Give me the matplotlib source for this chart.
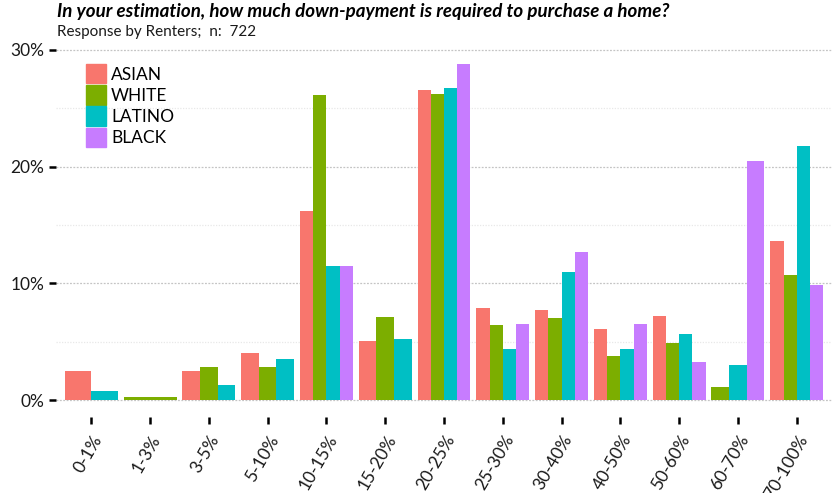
import matplotlib.pyplot as plt
import matplotlib.patches as mpatches
import numpy as np

plt.rcParams['font.family'] = ['Lato', 'DejaVu Sans']

categories = ["0-1%", "1-3%", "3-5%", "5-10%", "10-15%", "15-20%", "20-25%",
              "25-30%", "30-40%", "40-50%", "50-60%", "60-70%", "70-100%"]
groups = ["ASIAN", "WHITE", "LATINO", "BLACK"]
colors = ["#F8766D", "#7CAE00", "#00BFC4", "#C77CFF"]

# percent of respondents; None = no bar in that category
asian = [2.5, None, 2.5, 4.0, 16.2, 5.1, 26.6, 7.9, 7.7, 6.1, 7.2, None, 13.6]
white = [None, 0.3, 2.8, 2.8, 26.1, 7.1, 26.2, 6.4, 7.0, 3.8, 4.9, 1.1, 10.7]
latino = [0.8, None, 1.3, 3.5, 11.5, 5.2, 26.7, 4.4, 11.0, 4.4, 5.7, 3.0, 21.8]
black = [None, None, None, None, 11.5, None, 28.8, 6.5, 12.7, 6.5, 3.3, 20.5, 9.9]
series = [asian, white, latino, black]

W, H = 836, 493
fig = plt.figure(figsize=(W / 100, H / 100), dpi=100)
ax = fig.add_axes([56 / W, 1 - 417 / H, 776 / W, 370 / H])

# dodge like ggplot: bars share the 0.9 slot among groups present
for i, cat in enumerate(categories):
    present = [g for g in range(4) if series[g][i] is not None]
    n = len(present)
    w = 0.9 / n
    for k, g in enumerate(present):
        x = i + 1 - 0.45 + w * (k + 0.5)
        ax.bar(x, series[g][i], width=w, color=colors[g], zorder=3)

ax.set_xlim(0.4, 13.6)
ax.set_ylim(-1.44, 30.24)
ax.set_xticks(np.arange(1, 14))
ax.set_xticklabels(categories, rotation=60, ha='right', va='top',
                   rotation_mode='anchor', fontsize=12.5, color='#1a1a1a')
ax.set_yticks([0, 10, 20, 30])
ax.set_yticklabels(["0%", "10%", "20%", "30%"], fontsize=12.5, color='#1a1a1a')
ax.set_yticks([5, 15, 25], minor=True)
ax.tick_params(axis='both', which='major', length=5, width=1.8, color='black')
ax.tick_params(axis='x', pad=6)
ax.tick_params(axis='y', which='minor', length=0)
ax.grid(axis='y', which='major', color='#c4c4c4', linestyle=(0, (1.5, 1.2)), linewidth=0.9, zorder=0)
ax.grid(axis='y', which='minor', color='#e8e8e8', linestyle=(0, (1, 1.2)), linewidth=0.9, zorder=0)
for s in ax.spines.values():
    s.set_visible(False)

handles = [mpatches.Patch(color=c, label=g) for g, c in zip(groups, colors)]
leg = ax.legend(handles=handles, loc='upper left', bbox_to_anchor=(30 / 776, 1 - 17 / 370),
                frameon=False, fontsize=12.5, handlelength=1.15, handleheight=1.35,
                handletextpad=0.3, labelspacing=0.1, borderaxespad=0, borderpad=0)

fig.text(57 / W, 1 - 17 / H, "In your estimation, how much down-payment is required to purchase a home?",
         fontsize=13.5, fontweight='bold', fontstyle='italic', color='black', va='baseline')
fig.text(57 / W, 1 - 36 / H, "Response by Renters;  n:  722", fontsize=11, color='#1a1a1a', va='baseline')

fig.savefig("out.png", dpi=100)
